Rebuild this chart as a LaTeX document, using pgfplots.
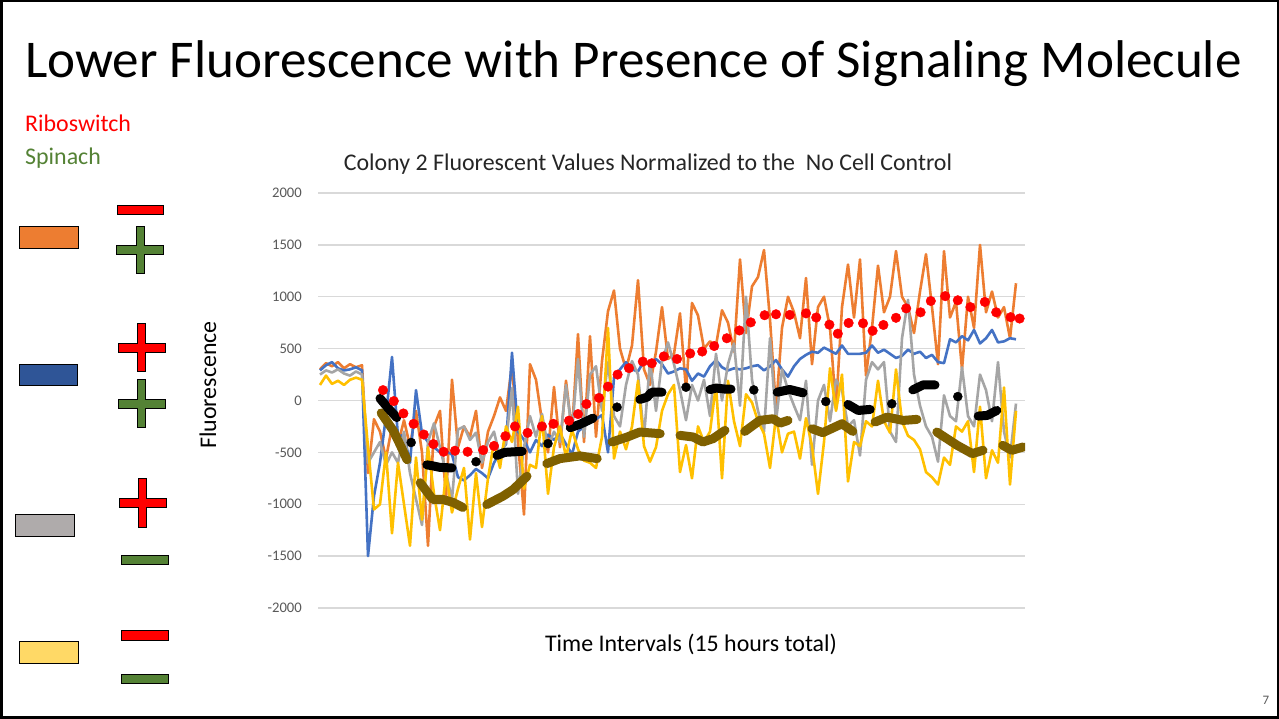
\documentclass[border=0pt]{standalone}
\usepackage{fontspec}
\setmainfont{Carlito}
\usepackage{pgfplots}
\usepackage{pgfplotstable}
\pgfplotsset{compat=1.18}
\definecolor{cOr}{HTML}{ED7D31}
\definecolor{cBl}{HTML}{4472C4}
\definecolor{cGr}{HTML}{A5A5A5}
\definecolor{cYe}{HTML}{FFC000}
\definecolor{cOl}{HTML}{7F6000}
\definecolor{cRed}{HTML}{FF0000}
\definecolor{lOr}{HTML}{ED7D31}
\definecolor{lBl}{HTML}{2F5597}
\definecolor{lGr}{HTML}{AFABAB}
\definecolor{lYe}{HTML}{FFD966}
\definecolor{lGreen}{HTML}{548235}
\definecolor{tickgray}{HTML}{595959}
\definecolor{gridgray}{HTML}{D9D9D9}

\pgfplotstableread{
i o b g y
0 300 290 250 150
1 360 340 290 240
2 330 370 270 160
3 370 310 300 190
4 310 290 260 150
5 350 300 240 200
6 320 320 280 220
7 340 290 250 200
8 -700 -1500 -600 -450
9 -180 -920 -500 -1050
10 -300 -600 -400 -1000
11 -560 -150 -620 -500
12 -250 420 -500 -1280
13 -420 -350 -600 -600
14 -190 -330 -300 -1000
15 -440 -600 -700 -1400
16 -100 100 -950 -550
17 -500 -320 -1200 -1150
18 -1400 -400 -400 -450
19 -250 -450 -220 -900
20 -100 -500 -450 -1250
21 -950 -490 -700 -700
22 200 -520 -950 -1080
23 -450 -740 -280 -850
24 -250 -770 -250 -650
25 -350 -720 -380 -1340
26 -100 -660 -310 -700
27 -650 -700 -600 -1220
28 -300 -750 -400 -750
29 -150 -600 -300 -400
30 30 -500 -550 -650
31 -100 -420 -400 -250
32 340 460 120 -400
33 -400 -300 -900 -60
34 -1100 -380 -450 -850
35 350 -500 -150 -620
36 200 -380 -350 -650
37 -200 -440 -130 -150
38 -500 -330 -450 -900
39 130 -380 -300 -450
40 -450 -320 -400 -250
41 190 -420 150 -550
42 -300 -520 -300 -280
43 640 -300 400 -470
44 -400 -250 -350 -580
45 620 -210 250 -600
46 -350 -180 330 -650
47 380 -140 -100 -350
48 860 -500 370 700
49 1060 220 -150 -560
50 500 300 -250 -300
51 300 370 150 -470
52 530 300 380 -250
53 1160 280 250 190
54 300 380 -350 -440
55 150 340 380 -590
56 470 400 -100 -450
57 900 350 380 -100
58 400 260 560 60
59 450 280 350 150
60 840 310 100 -690
61 100 300 -190 -430
62 940 190 150 -750
63 820 260 0 -250
64 500 230 200 -400
65 570 330 -150 -300
66 530 390 450 150
67 870 320 0 -750
68 750 290 350 190
69 470 310 550 -200
70 1360 300 -50 -440
71 650 310 1000 60
72 1100 330 200 -20
73 1190 340 -100 -200
74 1450 290 -300 -320
75 780 330 600 -650
76 -80 390 -200 -150
77 700 300 300 -500
78 1000 230 100 -320
79 850 330 -50 -300
80 600 400 -190 -560
81 1180 440 190 -170
82 350 470 -620 -440
83 900 460 0 -900
84 1000 510 150 -400
85 700 480 -200 310
86 -80 450 200 -100
87 900 530 100 250
88 1310 450 -250 -780
89 800 450 -190 -400
90 1360 450 -530 -440
91 240 460 200 -200
92 700 530 370 -250
93 1300 460 300 190
94 850 490 370 -200
95 1000 450 -300 -310
96 1440 410 -400 300
97 1000 430 600 -200
98 900 490 970 -340
99 650 450 250 -380
100 1050 470 -50 -470
101 1410 410 -250 -690
102 900 440 -350 -740
103 350 370 -590 -810
104 1440 360 50 -550
105 800 590 -150 -620
106 950 560 -200 -250
107 300 620 320 -300
108 1000 580 -150 -200
109 700 680 -250 -690
110 1500 550 250 -60
111 850 600 100 -750
112 1050 680 -200 -480
113 800 560 370 -600
114 900 570 -300 125
115 600 600 -550 -810
116 1130 590 -30 -100
}\maindata

\pgfplotstableread{
x v
10.5 100
12.3 -6
13.9 -125
15.6 -225
17.3 -328
18.9 -420
20.6 -494
22.5 -484
24.6 -494
27.2 -478
29 -438
30.9 -344
32.5 -250
34.6 -312
37 -250
38.9 -225
41.5 -194
43 -131
44.4 -34
46.5 25
48 134
49.6 250
51.5 312
53.8 375
55.3 359
57.3 425
59.5 400
61.7 453
63.7 472
65.7 525
67.8 600
69.9 675
71.8 753
74.1 822
76 831
78.3 825
81 840
82.7 800
84.9 731
86.3 644
88.1 747
90.5 744
92.1 672
93.9 728
96 797
97.7 888
100.1 850
101.8 959
104.2 1006
106.3 966
108.4 900
110.8 950
112.7 850
115.1 803
116.6 790
}\reddata

\pgfplotstableread{
x v
15.2 -405
26 -590
38 -415
49.5 -64
61 128
72.3 102
84.3 -10
95.3 -32
106.3 38
}\blackdots

\newcommand\plusshape[9]{%
 \filldraw[fill=#1, draw=black, line width=1bp]
 (#4bp,#6bp) -- (#5bp,#6bp) -- (#5bp,#8bp) -- (#3bp,#8bp) -- (#3bp,#9bp) -- (#5bp,#9bp) -- (#5bp,#7bp) -- (#4bp,#7bp)
 -- (#4bp,#9bp) -- (#2bp,#9bp) -- (#2bp,#8bp) -- (#4bp,#8bp) -- cycle;}

\begin{document}
\begin{tikzpicture}
\useasboundingbox (0bp,0bp) rectangle (1279bp,719bp);
\fill[white] (0bp,0bp) rectangle (1279bp,719bp);

% title and side texts
\node[anchor=base west, inner sep=0pt, font=\fontsize{53.3}{60}\selectfont] at (25bp,641bp) {Lower Fluorescence with Presence of Signaling Molecule};
\node[anchor=base west, inner sep=0pt, text=cRed, font=\fontsize{24}{28}\selectfont] at (25bp,587bp) {Riboswitch};
\node[anchor=base west, inner sep=0pt, text=lGreen, font=\fontsize{24}{28}\selectfont] at (25bp,554bp) {Spinach};

% legend shapes
\filldraw[fill=lOr, draw=black, line width=1bp] (19.3bp,470.7bp) rectangle (78.3bp,492.3bp);
\filldraw[fill=lBl, draw=black, line width=1bp] (19bp,333bp) rectangle (77.7bp,354.7bp);
\filldraw[fill=lGr, draw=black, line width=1bp] (15.3bp,182.3bp) rectangle (74.3bp,204.3bp);
\filldraw[fill=lYe, draw=black, line width=1bp] (19.7bp,55.7bp) rectangle (78.7bp,77.7bp);

\filldraw[fill=cRed, draw=black, line width=1bp] (117.3bp,504bp) rectangle (163.3bp,513bp);
\filldraw[fill=cRed, draw=black, line width=1bp] (121.3bp,78.7bp) rectangle (168bp,88bp);
\filldraw[fill=lGreen, draw=black, line width=1bp] (121.3bp,154.3bp) rectangle (168bp,163.3bp);
\filldraw[fill=lGreen, draw=black, line width=1bp] (121.3bp,35.3bp) rectangle (168bp,44.7bp);

% plus shapes: color, x1, x2, xv1, xv2, Ybottom, Ytop, Yh1(bottom), Yh2(top)
\plusshape{lGreen}{116.7}{163.3}{136}{144}{445}{492.3}{464.7}{473.3}
\plusshape{cRed}{118.3}{165}{137.3}{145.7}{347.3}{395}{366.7}{375.7}
\plusshape{lGreen}{118.3}{165}{137.3}{145.7}{291.7}{339.7}{310.7}{319.3}
\plusshape{cRed}{119.3}{166}{138.3}{146.7}{191.7}{240}{211.3}{220.7}

% chart texts
\node[anchor=base, inner sep=0pt, text=black!85, font=\fontsize{24}{28}\selectfont] at (648bp,548bp) {Colony 2 Fluorescent Values Normalized to the\ \ No Cell Control};
\node[anchor=base, inner sep=0pt, font=\fontsize{24}{28}\selectfont] at (691bp,67bp) {Time Intervals (15 hours total)};
\node[anchor=base, rotate=90, inner sep=0pt, font=\fontsize{24}{28}\selectfont] at (216bp,334bp) {Fluorescence};
\node[anchor=center, inner sep=0pt, text=tickgray, font=\fontsize{13}{15}\selectfont] at (1266bp,19bp) {7};

\begin{axis}[
  at={(318bp,111bp)}, anchor=south west,
  width=707bp, height=415bp, scale only axis,
  xmin=-0.333, xmax=117.5, ymin=-2000, ymax=2000,
  ytick={-2000,-1500,-1000,-500,0,500,1000,1500,2000},
  xtick=\empty,
  axis line style={draw=none},
  major tick length=0pt,
  ymajorgrids, grid style={draw=gridgray, line width=1.3bp},
  yticklabel style={anchor=east, inner sep=0pt, xshift=-16bp, text=tickgray, font=\fontsize{14.7}{16}\selectfont},
  /pgf/number format/.cd, 1000 sep={}, assume math mode=true,
]
\addplot[cOr, line width=2.6bp, mark=none, line join=round] table[x=i, y=o]{\maindata};
\addplot[cBl, line width=2.6bp, mark=none, line join=round] table[x=i, y=b]{\maindata};
\addplot[cGr, line width=2.6bp, mark=none, line join=round] table[x=i, y=g]{\maindata};
\addplot[cYe, line width=2.6bp, mark=none, line join=round] table[x=i, y=y]{\maindata};

% olive segments
\addplot[cOl, line width=9bp, line cap=round, line join=round, mark=none] coordinates {(10.2,-120) (12.2,-290) (13.3,-420) (14.5,-570)};
\addplot[cOl, line width=9bp, line cap=round, line join=round, mark=none] coordinates {(16.7,-793) (18.8,-954) (20.5,-954) (22.2,-983) (23.8,-1031)};
\addplot[cOl, line width=9bp, line cap=round, line join=round, mark=none] coordinates {(27.8,-1003) (30.5,-922) (32.2,-858) (34.5,-730)};
\addplot[cOl, line width=9bp, line cap=round, line join=round, mark=none] coordinates {(37.8,-608) (40,-560) (43.3,-534) (46.2,-560)};
\addplot[cOl, line width=9bp, line cap=round, line join=round, mark=none] coordinates {(48.7,-400) (51.2,-352) (53.3,-304) (56.7,-320)};
\addplot[cOl, line width=9bp, line cap=round, line join=round, mark=none] coordinates {(60,-336) (62.2,-352) (63.8,-400) (65.5,-368) (67.5,-288)};
\addplot[cOl, line width=9bp, line cap=round, line join=round, mark=none] coordinates {(70.8,-298) (73.3,-192) (75.5,-176) (76.7,-218) (78,-192)};
\addplot[cOl, line width=9bp, line cap=round, line join=round, mark=none] coordinates {(82,-272) (83.8,-310) (87,-224) (88.8,-298)};
\addplot[cOl, line width=9bp, line cap=round, line join=round, mark=none] coordinates {(92.5,-208) (94.5,-160) (97.2,-192) (99.5,-182)};
\addplot[cOl, line width=9bp, line cap=round, line join=round, mark=none] coordinates {(102.8,-304) (106.2,-432) (108.7,-512) (110.5,-480)};
\addplot[cOl, line width=9bp, line cap=round, line join=round, mark=none] coordinates {(113.8,-432) (115.3,-480) (117.2,-448)};

% black segments
\addplot[black, line width=9bp, line cap=round, line join=round, mark=none] coordinates {(10,20) (11.3,-70) (12.8,-165)};
\addplot[black, line width=9bp, line cap=round, line join=round, mark=none] coordinates {(17.8,-620) (18.8,-630) (20,-645) (22,-650)};
\addplot[black, line width=9bp, line cap=round, line join=round, mark=none] coordinates {(29.5,-530) (30.8,-500) (33.7,-490)};
\addplot[black, line width=9bp, line cap=round, line join=round, mark=none] coordinates {(41.7,-262) (43.3,-230) (45.5,-170)};
\addplot[black, line width=9bp, line cap=round, line join=round, mark=none] coordinates {(53.3,10) (54.5,32) (55.3,80) (57,80)};
\addplot[black, line width=9bp, line cap=round, line join=round, mark=none] coordinates {(65,105) (66,120) (67.5,110) (68.5,110)};
\addplot[black, line width=9bp, line cap=round, line join=round, mark=none] coordinates {(76.2,80) (78.3,106) (80.5,74)};
\addplot[black, line width=9bp, line cap=round, line join=round, mark=none] coordinates {(88,-38) (89.7,-96) (91.7,-86)};
\addplot[black, line width=9bp, line cap=round, line join=round, mark=none] coordinates {(98.8,102) (100.5,150) (102.5,150)};
\addplot[black, line width=9bp, line cap=round, line join=round, mark=none] coordinates {(109.7,-150) (111.2,-144) (112.8,-96)};
\addplot[black, only marks, mark=*, mark size=4.5bp, mark options={fill=black, draw=none}] table[x=x, y=v]{\blackdots};

% red dots
\addplot[cRed, only marks, mark=*, mark size=4.8bp, mark options={fill=cRed, draw=none}] table[x=x, y=v]{\reddata};
\end{axis}

\draw[line width=2.5bp] (1.25bp,1.25bp) rectangle (1277.75bp,717.75bp);
\end{tikzpicture}
\end{document}
